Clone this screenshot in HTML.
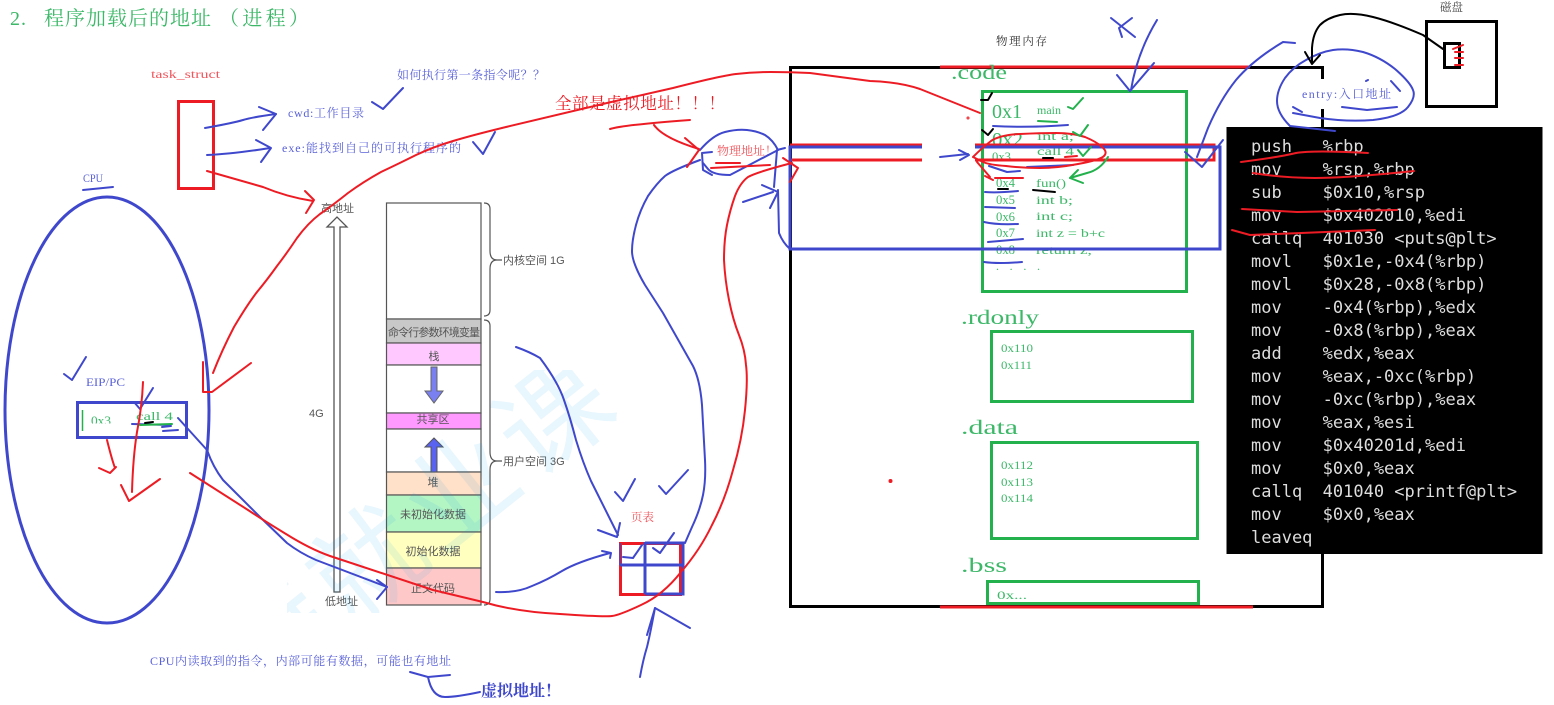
<!DOCTYPE html>
<html lang="zh">
<head>
<meta charset="utf-8">
<style>
html,body{margin:0;padding:0;background:#fff;width:1554px;height:705px;overflow:hidden}
svg{display:block}
text{font-family:"Liberation Serif","Noto Serif CJK SC",serif;white-space:pre}
.s{font-family:"Liberation Sans","Noto Sans CJK SC",sans-serif;fill:#555;font-size:11px}
.g{fill:#3cb868}
.b{fill:#5a62d8}
.r{fill:#ed1c24}
.c{font-family:"DejaVu Sans Mono","Liberation Mono",monospace;font-size:17px;fill:#ddd}
.hb,.hr,.hg,.hk{fill:none;stroke-linecap:round;stroke-linejoin:round;stroke-width:2}
.hb{stroke:#3f48cc}.hr{stroke:#ed1c24}.hg{stroke:#22b14c}.hk{stroke:#000}
</style>
</head>
<body>
<svg width="1554" height="705" viewBox="0 0 1554 705" xmlns="http://www.w3.org/2000/svg">
<defs><clipPath id="wm"><rect x="287" y="370" width="350" height="243"/></clipPath>
<clipPath id="c3"><rect x="85" y="410" width="40" height="13.5"/></clipPath></defs>
<rect width="1554" height="705" fill="#fff"/>

<!-- title -->
<text x="10" y="25" class="g" font-size="20" textLength="16">2.</text>
<text x="44" y="25" class="g" font-size="20" textLength="167">程序加载后的地址</text>
<text x="219" y="25" class="g" font-size="20" textLength="90">（进程）</text>

<!-- left labels -->
<text x="151" y="78" font-size="12" fill="#f0555c" textLength="69" lengthAdjust="spacingAndGlyphs">task_struct</text>
<text x="397" y="79" class="b" font-size="12" textLength="148">如何执行第一条指令呢？？</text>
<text x="288" y="117" class="b" font-size="12" textLength="76">cwd:工作目录</text>
<text x="282" y="152" class="b" font-size="12" textLength="179">exe:能找到自己的可执行程序的</text>
<text x="83" y="182" class="b" font-size="12" textLength="20" lengthAdjust="spacingAndGlyphs">CPU</text>
<rect x="178.5" y="101.5" width="35" height="87" fill="none" stroke="#ed1c24" stroke-width="3"/>

<!-- cpu -->
<ellipse cx="107" cy="410" rx="102" ry="213" fill="none" stroke="#3f48cc" stroke-width="3"/>
<text x="86" y="386" class="b" font-size="12" textLength="39" lengthAdjust="spacingAndGlyphs">EIP/PC</text>
<rect x="77.5" y="402.5" width="109" height="35" fill="none" stroke="#3f48cc" stroke-width="3"/>
<line x1="82.5" y1="410" x2="82.5" y2="431" stroke="#22b14c" stroke-width="1.5"/>
<text x="91" y="425" class="g" font-size="13" textLength="20" lengthAdjust="spacingAndGlyphs" clip-path="url(#c3)">0x3</text>
<text x="136" y="420" class="g" font-size="12" textLength="37" lengthAdjust="spacingAndGlyphs">call 4</text>

<!-- stack -->
<g stroke="#555" stroke-width="1.2">
<rect x="386.5" y="203" width="94.5" height="116" fill="#fff"/>
<rect x="386.5" y="319" width="94.5" height="24" fill="#c8c8c8"/>
<rect x="386.5" y="343" width="94.5" height="22" fill="#ffc8ff"/>
<rect x="386.5" y="365" width="94.5" height="48" fill="#fff"/>
<rect x="386.5" y="413" width="94.5" height="16" fill="#ff99ff"/>
<rect x="386.5" y="429" width="94.5" height="43" fill="#fff"/>
<rect x="386.5" y="472" width="94.5" height="23" fill="#ffe0c8"/>
<rect x="386.5" y="495" width="94.5" height="37" fill="#b4f5c4"/>
<rect x="386.5" y="532" width="94.5" height="36" fill="#ffffc0"/>
<rect x="386.5" y="568" width="94.5" height="37" fill="#ffc8c8"/>
</g>
<polygon points="431,367 437,367 437,391 443,391 434,403 425,391 431,391" fill="#7a80f0" stroke="#666"/>
<polygon points="431,472 437,472 437,447 443,447 434,438 425,447 431,447" fill="#5a62f0" stroke="#555"/>
<g text-anchor="middle">
<text x="434" y="336" class="s" textLength="92" font-size="11.5">命令行参数环境变量</text>
<text x="434" y="360" class="s">栈</text>
<text x="433" y="423" class="s">共享区</text>
<text x="433" y="486" class="s">堆</text>
<text x="433" y="518" class="s">未初始化数据</text>
<text x="433" y="555" class="s">初始化数据</text>
<text x="433" y="592" class="s">正文代码</text>
</g>
<path d="M484 203q6 0 6 6v42q0 9 7 9h5m-5 0q-7 0-7 9v41q0 6-6 6" fill="none" stroke="#555" stroke-width="1.2"/>
<path d="M484 320q6 0 6 6v126q0 9 7 9h5m-5 0q-7 0-7 9v129q0 6-6 6" fill="none" stroke="#555" stroke-width="1.2"/>
<text x="503" y="264" class="s">内核空间 1G</text>
<text x="503" y="465" class="s">用户空间 3G</text>
<polygon points="334,592 340,592 340,227 347,227 337,217 327,227 334,227" fill="#fff" stroke="#555" stroke-width="1.3"/>
<text x="321" y="212" class="s" font-size="10.5">高地址</text>
<text x="325" y="605" class="s" font-size="10.5">低地址</text>
<text x="309" y="417" class="s">4G</text>

<!-- watermark -->
<g clip-path="url(#wm)"><g transform="translate(367,564) rotate(-38.5)">
<text x="-174" y="40" font-size="110" letter-spacing="9" fill="#00a0e9" fill-opacity="0.09" style="font-family:'Noto Sans CJK SC',sans-serif">特就业课</text>
</g></g>

<!-- page table -->
<text x="631" y="521" font-size="11.5" fill="#f0555c">页表</text>
<rect x="620.5" y="543.5" width="60" height="51" fill="none" stroke="#ed1c24" stroke-width="3"/>
<path d="M620 565H683M645 542V594M645 543H683V594H645" fill="none" stroke="#3f48cc" stroke-width="3"/>
<path d="M620 543V565" stroke="#3f48cc" stroke-width="1.5"/>

<!-- memory -->
<rect x="790.5" y="67.5" width="532" height="539" fill="none" stroke="#000" stroke-width="3"/>
<rect x="1316" y="79" width="14" height="30" fill="#fff"/>
<path d="M940 67H1250" stroke="#ed1c24" stroke-width="3"/>
<path d="M940 607H1253" stroke="#ed1c24" stroke-width="3"/>
<text x="996" y="45" font-size="11.5" fill="#333" textLength="51">物理内存</text>
<text x="951" y="79" class="g" font-size="20" textLength="56" lengthAdjust="spacingAndGlyphs">.code</text>
<text x="961" y="324" class="g" font-size="20" textLength="78" lengthAdjust="spacingAndGlyphs">.rdonly</text>
<text x="961" y="434" class="g" font-size="20" textLength="57" lengthAdjust="spacingAndGlyphs">.data</text>
<text x="961" y="572" class="g" font-size="20" textLength="46" lengthAdjust="spacingAndGlyphs">.bss</text>
<g fill="none" stroke="#22b14c" stroke-width="3">
<rect x="982.5" y="91.5" width="204" height="200"/>
<rect x="991.5" y="331.5" width="201" height="70"/>
<rect x="991.5" y="442.5" width="206" height="96"/>
<rect x="987.5" y="581.5" width="211" height="22"/>
</g>
<g lengthAdjust="spacingAndGlyphs">
<text x="992" y="118" font-size="20" class="g" textLength="30" lengthAdjust="spacingAndGlyphs">0x1</text>
<text x="992" y="146" font-size="20" class="g" textLength="31" lengthAdjust="spacingAndGlyphs">0x2</text>
<text x="992" y="161" font-size="13" class="g" textLength="19" lengthAdjust="spacingAndGlyphs">0x3</text>
<text x="996" y="187" font-size="13" class="g" textLength="19" lengthAdjust="spacingAndGlyphs">0x4</text>
<text x="996" y="204" font-size="13" class="g" textLength="19" lengthAdjust="spacingAndGlyphs">0x5</text>
<text x="996" y="221" font-size="13" class="g" textLength="19" lengthAdjust="spacingAndGlyphs">0x6</text>
<text x="996" y="237" font-size="13" class="g" textLength="19" lengthAdjust="spacingAndGlyphs">0x7</text>
<text x="996" y="254" font-size="13" class="g" textLength="19" lengthAdjust="spacingAndGlyphs">0x8</text>
<text x="1037" y="114" font-size="11.5" class="g" textLength="24" lengthAdjust="spacingAndGlyphs">main</text>
<text x="1037" y="140" font-size="11.5" class="g" textLength="37" lengthAdjust="spacingAndGlyphs">int a;</text>
<text x="1037" y="155" font-size="11.5" class="g" textLength="37" lengthAdjust="spacingAndGlyphs">call 4</text>
<text x="1036" y="187" font-size="12" class="g" textLength="30" lengthAdjust="spacingAndGlyphs">fun()</text>
<text x="1036" y="204" font-size="12" class="g" textLength="37" lengthAdjust="spacingAndGlyphs">int b;</text>
<text x="1036" y="220" font-size="12" class="g" textLength="37" lengthAdjust="spacingAndGlyphs">int c;</text>
<text x="1036" y="237" font-size="12" class="g" textLength="69" lengthAdjust="spacingAndGlyphs">int z = b+c</text>
<text x="1036" y="254" font-size="12" class="g" textLength="56" lengthAdjust="spacingAndGlyphs">return z;</text>
<text x="996" y="270" font-size="12" class="g" textLength="44">. . . .</text>
<text x="1001" y="352" font-size="12" class="g" textLength="32" lengthAdjust="spacingAndGlyphs">0x110</text>
<text x="1001" y="369" font-size="12" class="g" textLength="31" lengthAdjust="spacingAndGlyphs">0x111</text>
<text x="1001" y="469" font-size="12" class="g" textLength="32" lengthAdjust="spacingAndGlyphs">0x112</text>
<text x="1001" y="486" font-size="12" class="g" textLength="32" lengthAdjust="spacingAndGlyphs">0x113</text>
<text x="1001" y="502" font-size="12" class="g" textLength="32" lengthAdjust="spacingAndGlyphs">0x114</text>
<text x="997" y="599" font-size="12" class="g" textLength="30" lengthAdjust="spacingAndGlyphs">0x...</text>
</g>

<!-- asm panel -->
<rect x="1226.5" y="127" width="316" height="427" fill="#000"/>
<text x="1251" y="152" class="c">push   %rbp</text>
<text x="1251" y="175" class="c">mov    %rsp,%rbp</text>
<text x="1251" y="198" class="c">sub    $0x10,%rsp</text>
<text x="1251" y="221" class="c">mov    $0x402010,%edi</text>
<text x="1251" y="244" class="c">callq  401030 &lt;puts@plt&gt;</text>
<text x="1251" y="267" class="c">movl   $0x1e,-0x4(%rbp)</text>
<text x="1251" y="290" class="c">movl   $0x28,-0x8(%rbp)</text>
<text x="1251" y="313" class="c">mov    -0x4(%rbp),%edx</text>
<text x="1251" y="336" class="c">mov    -0x8(%rbp),%eax</text>
<text x="1251" y="359" class="c">add    %edx,%eax</text>
<text x="1251" y="382" class="c">mov    %eax,-0xc(%rbp)</text>
<text x="1251" y="405" class="c">mov    -0xc(%rbp),%eax</text>
<text x="1251" y="428" class="c">mov    %eax,%esi</text>
<text x="1251" y="451" class="c">mov    $0x40201d,%edi</text>
<text x="1251" y="474" class="c">mov    $0x0,%eax</text>
<text x="1251" y="497" class="c">callq  401040 &lt;printf@plt&gt;</text>
<text x="1251" y="520" class="c">mov    $0x0,%eax</text>
<text x="1251" y="543" class="c">leaveq</text>

<!-- disk -->
<text x="1440" y="11" font-size="11.5" fill="#444">磁盘</text>
<rect x="1426.5" y="21.5" width="70" height="85" fill="none" stroke="#000" stroke-width="3"/>
<rect x="1444.5" y="43.5" width="15" height="24" fill="none" stroke="#000" stroke-width="3"/>
<text x="1302" y="98" class="b" font-size="12" textLength="89">entry:入口地址</text>

<!-- virtual range overlay -->
<path d="M790 145H922M975 145H1214V160H975M922 160H790" fill="none" stroke="#ed1c24" stroke-width="3"/>
<path d="M922 147H790V249H1220V147H975" fill="none" stroke="#3f48cc" stroke-width="3"/>

<!-- other labels -->
<text x="555" y="109" class="r" font-size="16.5" textLength="170">全部是虚拟地址！！！</text>
<text x="717" y="155" font-size="12" fill="#f0555c" textLength="60">物理地址！</text>
<text x="150" y="665" class="b" font-size="12" textLength="301">CPU内读取到的指令，内部可能有数据，可能也有地址</text>
<text x="481" y="696" fill="#3f48cc" font-size="16" font-weight="bold" textLength="80">虚拟地址！</text>

<!-- hand drawn: blue -->
<g class="hb">
<path d="M205 128Q233 123 243 120Q253 117 276 114"/><polyline points="259,107 276,114 263,130"/>
<path d="M207 155Q233 154 270 148"/><polyline points="256,140 271,148 261,162"/>
<polyline points="372,102 383,109 403,88"/><polyline points="473,142 483,154 495,132"/>
<polyline points="83,190 113,187"/><polyline points="64,374 72,380 86,357"/>
<polyline points="134,402 140,409 153,388"/>
<polyline points="132,424 170,425"/><polyline points="162,427 171,426"/><polyline points="163,431 178,430"/>
<path d="M178 418L207 450Q213 467 223 480L260 517L287 543Q300 553 316 560L387 587"/><polyline points="377,580 387,587 377,599"/>
<polyline points="410,672 428,677 450,675"/><path d="M428 677Q432 697 445 697Q457 697 480 692"/>
<polyline points="615,492 623,501 635,479"/><polyline points="659,486 666,494 688,470"/>
<polyline points="623,557 633,558 642,545"/><polyline points="653,548 660,553 674,533"/>
<path d="M516 347Q530 352 540 358Q558 382 564 400Q570 417 576 440Q583 463 591 481L618 535"/><polyline points="598,530 617,537 620,523"/>
<path d="M496 592Q517 593 532 586Q547 580 562 571Q577 562 610 553"/><polyline points="602,551 611,553 610,558"/>
<path d="M640 677Q643 660 647 647Q650 635 655 608"/><polyline points="647,635 655,608 690,628"/>
<path d="M685 543L692 527Q700 510 703 495Q706 480 705 460L702 405Q700 380 693 366L663 313L645 285Q632 263 632 251Q632 240 636 225Q640 210 648 196Q657 183 665 176Q673 170 700 160"/>
<polyline points="712,152 702,153 703,170 712,175"/>
<path d="M700 150Q713 135 725 132Q737 129 747 130Q757 131 765 135Q773 140 778 150L753 163L730 175Q713 175 708 169Q703 163 703 163"/>
<polyline points="785,148 777,150 774,187"/><polyline points="743,202 773,192"/><polyline points="762,185 778,192 770,208"/>
<path d="M778 190L779 233Q783 243 790 249"/>
<polyline points="940,157 968,154"/><polyline points="959,150 969,155 960,160"/>
<path d="M1157 20Q1137 53 1131 90"/><polyline points="1117,75 1130,91 1154,63"/>
<polyline points="1111,18 1135,37"/><polyline points="1132,18 1119,28 1122,37"/>
<path d="M1295 43L1283 42Q1253 60 1236 80Q1220 100 1208 128L1197 157"/><polyline points="1185,152 1202,167 1223,140"/>
<path d="M1335 131L1290 126Q1277 113 1277 101Q1277 90 1285 78Q1293 67 1306 60Q1320 52 1333 50Q1347 48 1363 52Q1380 57 1395 69Q1410 82 1413 90Q1416 97 1408 107Q1400 117 1373 120Q1347 122 1320 118L1293 113"/>
<polyline points="1293,107 1302,112"/><polyline points="1342,107 1367,110 1397,107"/><polyline points="1391,81 1400,91"/><polyline points="1366,81 1368,80"/>
<path d="M993 126Q1027 128 1068 125"/>
<polyline points="989,166 1007,172 1020,171"/><polyline points="1027,167 1073,165"/>
<path d="M985 192Q997 193 1018 191"/><polyline points="985,207 1015,208"/>
<path d="M984 222Q997 225 1018 224"/><polyline points="988,242 1023,239"/>
<path d="M984 262Q998 264 1022 262"/>
</g>

<!-- hand drawn: red -->
<g class="hr">
<path d="M213 373Q222 350 234 327Q247 305 257 292Q267 280 277 266Q287 253 297 238Q308 223 320 214Q333 205 348 193Q363 182 381 172Q400 163 416 155Q433 147 453 141Q473 135 506 127L607 103L673 88Q720 76 736 74Q753 72 771 72Q790 72 810 73L870 81Q900 82 920 89L980 113"/>
<polyline points="203,362 203,392 212,392 251,363"/>
<path d="M207 171L263 187Q287 197 313 201"/><polyline points="305,191 314,200 306,213"/>
<path d="M107 440Q112 460 115 468"/><polyline points="99,468 110,473 116,467"/>
<path d="M143 382Q142 407 137 432Q133 457 132 492"/><polyline points="121,485 129,501 160,479"/>
<path d="M190 473L248 510Q263 520 286 534Q310 549 330 556L433 590L483 602Q517 612 560 614Q603 617 612 616Q620 615 641 605Q663 595 681 572Q700 550 712 525Q725 500 733 470Q742 440 745 410Q748 380 746 365Q745 350 739 335Q733 320 729 300Q725 280 724 260Q724 240 727 225Q730 210 735 196Q740 183 748 177Q757 172 792 163"/>
<polyline points="783,158 798,168 790,182"/>
<path d="M610 129Q623 125 690 120"/><path d="M654 125Q663 138 699 149"/><polyline points="685,138 699,150 687,167"/>
<polyline points="716,163 740,163"/><polyline points="711,168 770,165"/>
<path d="M973 157Q983 147 991 141Q1000 135 1020 134Q1040 133 1056 133Q1073 133 1085 137Q1097 142 1102 147Q1108 152 1104 156Q1100 160 1078 164Q1057 168 1040 168Q1023 168 1006 166Q990 165 983 162Z"/>
<polyline points="977,162 990,177"/><polyline points="995,178 1023,178"/><polyline points="985,176 993,180"/>
<polyline points="1065,157 1077,156"/>
<path d="M1241 162Q1280 157 1296 153Q1313 150 1368 153"/>
<path d="M1253 173Q1283 178 1315 178Q1347 178 1414 171"/>
<polyline points="1242,209 1297,212 1397,210"/>
<polyline points="1232,230 1250,235 1375,230"/>
<polyline points="1453,49 1463,45"/><polyline points="1455,52 1463,52"/><polyline points="1455,58 1463,58"/><polyline points="1455,65 1463,65"/>
<circle cx="890.5" cy="481" r="1"/><circle cx="968" cy="118" r=".5"/>
</g>

<!-- hand drawn: green -->
<g class="hg">
<polyline points="140,425 172,424"/>
<polyline points="1068,107 1073,109 1083,98"/><polyline points="1038,121 1057,122"/>
<polyline points="1073,132 1080,136 1088,125"/><polyline points="1078,150 1083,156 1091,147"/>
<path d="M1108 157Q1100 170 1087 173L1070 178"/><polyline points="1078,170 1070,178 1083,183"/>
</g>

<!-- hand drawn: black -->
<g class="hk">
<polyline points="145,423 153,422"/>
<polyline points="981,100 988,100 992,93"/><polyline points="982,130 988,135 993,129"/>
<polyline points="1043,158 1053,158"/><polyline points="998,189 1008,189"/><polyline points="1033,190 1055,192"/>
<path d="M1443 49L1423 35Q1393 22 1373 17Q1353 12 1340 15Q1327 18 1320 25Q1313 33 1312 48L1312 63"/><polyline points="1305,52 1312,64 1320,55"/>
</g>
</svg>
</body>
</html>
